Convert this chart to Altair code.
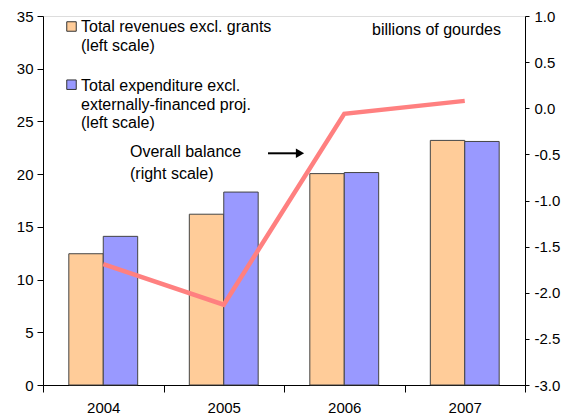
import altair as alt
import pandas as pd

years = ["2004", "2005", "2006", "2007"]
revenues = [12.45, 16.2, 20.05, 23.2]
expenditure = [14.1, 18.3, 20.15, 23.1]
balance = [-1.69, -2.13, -0.06, 0.08]
series_names = ["Total revenues excl. grants", "Total expenditure excl. externally-financed proj."]
series_colors = ["#FFCC99", "#9999FF"]

FONT = "Liberation Sans"

bars_df = pd.DataFrame({
    "year": years * 2,
    "series": [series_names[0]] * 4 + [series_names[1]] * 4,
    "value": revenues + expenditure,
})
line_df = pd.DataFrame({"year": years, "balance": balance})

x_enc = alt.X("year:N", title=None,
              scale=alt.Scale(paddingInner=0, paddingOuter=0),
              axis=alt.Axis(labelAngle=0, tickBand="extent", tickSize=7, labelPadding=8,
                            labelFontSize=15, labelFont=FONT, labelColor="black",
                            domainColor="black", tickColor="black"))

bars = alt.Chart(bars_df).mark_bar(stroke="#444444", strokeWidth=1).encode(
    x=x_enc,
    xOffset=alt.XOffset("series:N", sort=series_names,
                        scale=alt.Scale(paddingInner=0, paddingOuter=0.75)),
    y=alt.Y("value:Q", title=None,
            scale=alt.Scale(domain=[0, 35], nice=False),
            axis=alt.Axis(values=[0, 5, 10, 15, 20, 25, 30, 35], grid=False,
                          tickSize=6, labelPadding=4, labelFontSize=15, labelFont=FONT,
                          labelColor="black", domainColor="black", tickColor="black")),
    color=alt.Color("series:N", sort=series_names,
                    scale=alt.Scale(domain=series_names, range=series_colors), legend=None),
)

line = alt.Chart(line_df).mark_line(color="#FF8080", strokeWidth=4.5).encode(
    x=alt.X("year:N"),
    y=alt.Y("balance:Q", title=None,
            scale=alt.Scale(domain=[-3, 1], nice=False),
            axis=alt.Axis(orient="right", values=[-3, -2.5, -2, -1.5, -1, -0.5, 0, 0.5, 1],
                          labelExpr="datum.value < 0 ? '-' + format(-datum.value, '.1f') : format(datum.value, '.1f')",
                          grid=False, tickSize=4, labelPadding=5, labelFontSize=15, labelFont=FONT,
                          labelColor="black", domainColor="black", tickColor="black")),
)

def txt(s, x, y, align="left"):
    return alt.Chart(pd.DataFrame({"t": [s]})).mark_text(
        align=align, baseline="alphabetic", fontSize=16, font=FONT, color="black"
    ).encode(text="t:N", x=alt.value(x), y=alt.value(y))

def sq(color, x, y):
    return alt.Chart(pd.DataFrame({"c": [color]})).mark_square(
        size=90, color=color, opacity=1, stroke="#333333", strokeWidth=1, filled=True
    ).encode(x=alt.value(x), y=alt.value(y))

annots = [
    sq(series_colors[0], 28.5, 10.5),
    txt("Total revenues excl. grants", 38, 16.3),
    txt("(left scale)", 38, 34.7),
    sq(series_colors[1], 28.5, 68.7),
    txt("Total expenditure excl.", 38, 74.7),
    txt("externally-financed proj.", 38, 93.5),
    txt("(left scale)", 38, 112.3),
    txt("Overall balance", 87, 141.3),
    txt("(right scale)", 87, 163),
    txt("billions of gourdes", 458, 19, align="right"),
]

arrow_line = alt.Chart(pd.DataFrame({"a": [0]})).mark_rule(color="black", strokeWidth=2).encode(
    x=alt.value(225), x2=alt.value(255), y=alt.value(137.3))
arrow_head = alt.Chart(pd.DataFrame({"a": [0]})).mark_point(
    shape="triangle-right", size=90, filled=True, color="black", opacity=1
).encode(x=alt.value(257), y=alt.value(137.3))

left = alt.layer(bars, *annots, arrow_line, arrow_head)
chart = alt.layer(left, line).resolve_scale(y="independent").properties(
    width=482, height=369,
    autosize=alt.AutoSizeParams(type="none"),
    padding={"left": 35, "top": 8, "right": 36, "bottom": 31},
).configure_view(stroke="black", strokeWidth=1).configure(background="white")

chart.save("out.html", embed_options={"renderer": "svg", "actions": False})
